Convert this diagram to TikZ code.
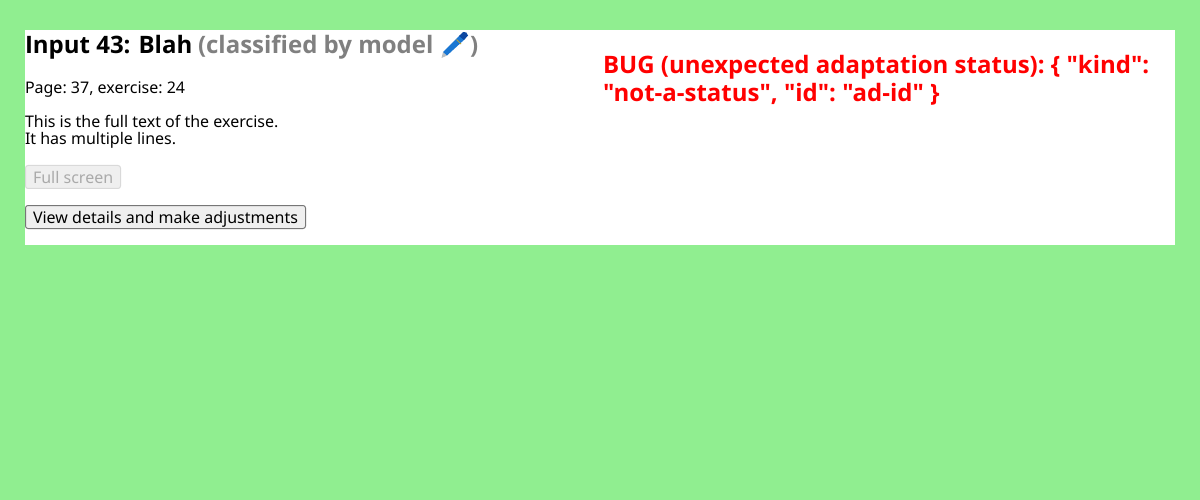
\documentclass[tikz,border=0pt]{standalone}
\usepackage{fontspec}
\setmainfont{Noto Sans}
\newfontfamily\headfont{Open Sans}
\definecolor{pagebg}{HTML}{90EE90}
\definecolor{greytxt}{HTML}{808080}
\definecolor{bugred}{HTML}{FF0000}
\definecolor{btnfill}{HTML}{EFEFEF}
\definecolor{btnline}{HTML}{767676}
\definecolor{btnoff}{HTML}{D9D9D9}
\definecolor{txtoff}{HTML}{AAAAAA}
\definecolor{penblue}{HTML}{1976D2}
\definecolor{pendark}{HTML}{0D47A1}
\definecolor{pengold}{HTML}{B0A040}
\definecolor{pentip}{HTML}{B8BEC2}
\newcommand{\qt}{\char34 }
\frenchspacing
\tikzset{
  txt/.style={anchor=base west,inner sep=0pt,outer sep=0pt,font=\fontsize{16pt}{22pt}\selectfont},
  head/.style={anchor=base west,inner sep=0pt,outer sep=0pt,font=\headfont\fontsize{24pt}{33pt}\selectfont\bfseries},
  btn/.style={draw=btnline,fill=btnfill,rounded corners=2.5pt,line width=1pt},
  btnd/.style={draw=btnoff,fill=btnfill,rounded corners=2.5pt,line width=1pt}
}
\begin{document}
\begin{tikzpicture}[x=1pt,y=-1pt]
\useasboundingbox (0,0) rectangle (1200,500);
\fill[pagebg] (0,0) rectangle (1200,500);
\fill[white] (25,30) rectangle (1175,245);
\node[head] (title) at (25,54) {Input 43:\hspace{1.8pt} Blah};
\node[head,text=greytxt] (sub) at (198,54) {(classified by model};
\node[head,text=greytxt] (close) at (470,54) {)};
% pen
\fill[pentip] (441.5,58) -- (443,52) -- (447,55.5) -- cycle;
\fill[penblue] (443,52) -- (460,35) -- (464.5,39.5) -- (447,55.5) -- cycle;
\fill[pendark] (459,36) -- (463,32) .. controls (465,31) and (468,33) .. (468,35.5) -- (464,40) -- cycle;
\draw[pengold,line width=1pt] (456.5,39.5) -- (461,44);
\node[txt] (page) at (25,94) {Page: 37, exercise: 24};
\node[txt] (l1) at (25,128) {This is the full text of the exercise.};
\node[txt] (l2) at (25,145) {It has multiple lines.};
\draw[btnd] (25.5,165.5) rectangle (120.5,188.5);
\node[txt,text=txtoff] (fs) at (33,183) {Full screen};
\draw[btn] (25.5,205.5) rectangle (305.5,228.5);
\node[txt] (vd) at (33,223) {View details and make adjustments};
\node[head,text=bugred] (b1) at (603,74) {BUG (unexpected adaptation status): \{ \qt kind\qt :};
\node[head,text=bugred] (b2) at (603,102) {\qt not-a-status\qt , \qt id\qt : \qt ad-id\qt{} \}};
\end{tikzpicture}
\end{document}
